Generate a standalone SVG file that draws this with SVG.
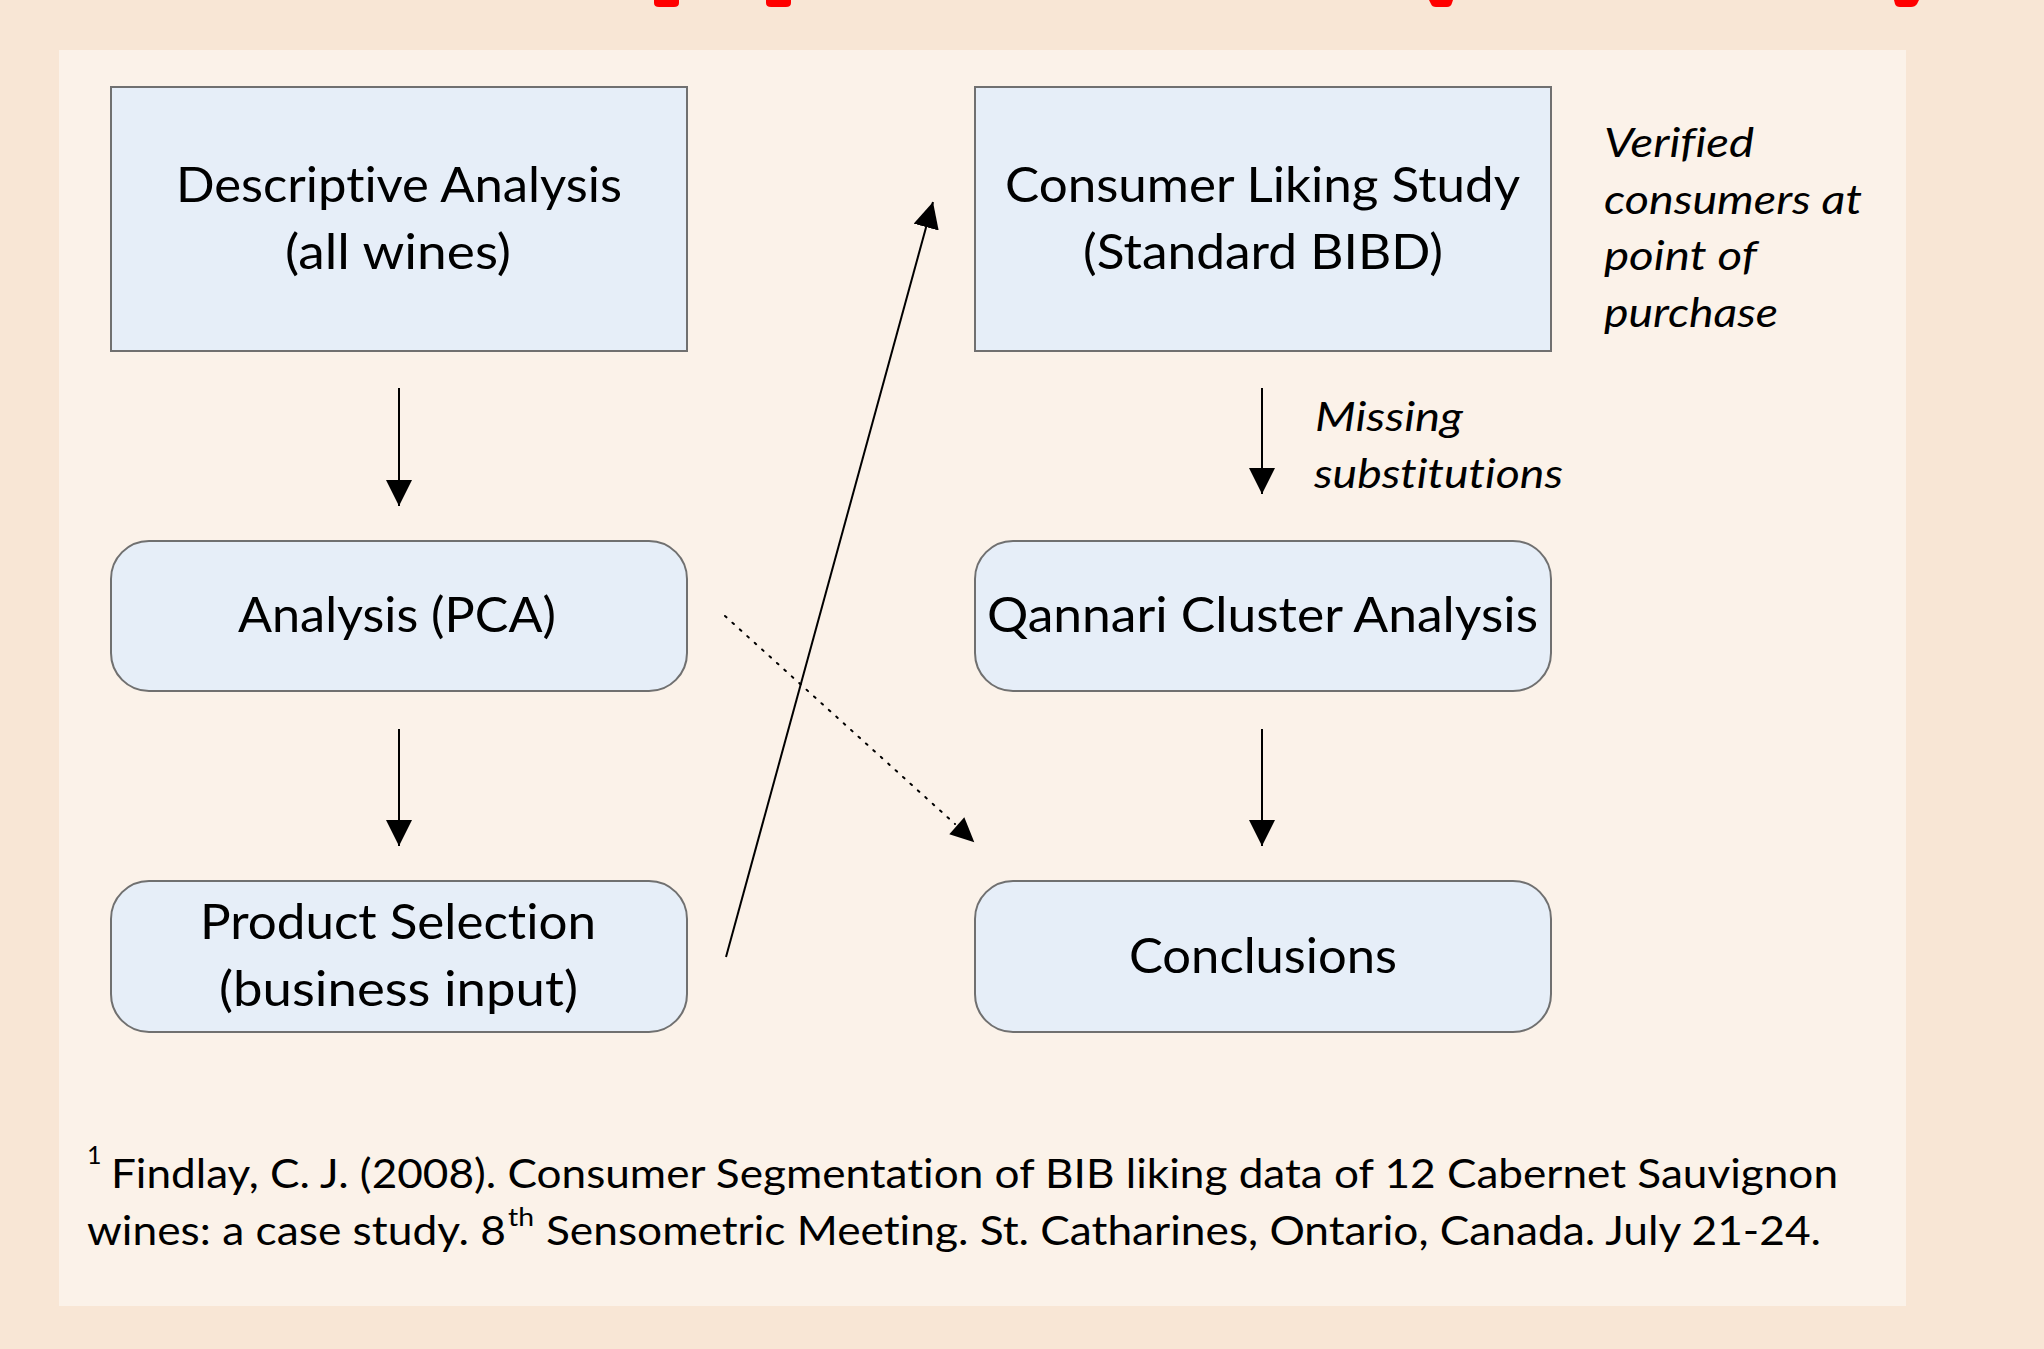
<svg xmlns="http://www.w3.org/2000/svg" width="2044" height="1349" viewBox="0 0 2044 1349">
  <style>
    text { font-variant-ligatures: none; font-feature-settings: "liga" 0, "clig" 0, "dlig" 0; }
    .box { fill: #e6eef8; stroke: #707070; stroke-width: 2; }
    .t { font-family: Lato, "Liberation Sans", sans-serif; font-size: 49px; fill: #000; }
    .it { font-family: Lato, "Liberation Sans", sans-serif; font-size: 40px; font-style: italic; fill: #000; }
    .fn { font-family: Lato, "Liberation Sans", sans-serif; font-size: 40px; fill: #000; }
    .sup { font-family: Lato, "Liberation Sans", sans-serif; font-size: 25px; fill: #000; }
    .conn { fill: none; stroke: #000; stroke-width: 2; }
    .dot { fill: none; stroke: #000; stroke-width: 2; stroke-dasharray: 2 8; stroke-linecap: round; }
    .red { fill: #ff0000; }
  </style>
  <defs>
    <marker id="ah" markerUnits="userSpaceOnUse" markerWidth="26" markerHeight="26" viewBox="0 0 25 25" refX="25" refY="12.5" orient="auto">
      <path d="M0,0 L25,12.5 L0,25 Z" fill="#000"/>
    </marker>
  </defs>

  <rect x="0" y="0" width="2044" height="1349" fill="#f8e6d5"/>
  <g id="red-marks">
    <path class="red" d="M654,0 H679 V3 Q679,7 674,7 H659 Q654,7 654,3 Z"/>
    <path class="red" d="M766,0 H791 V3 Q791,7 786,7 H771 Q766,7 766,3 Z"/>
    <path class="red" d="M1429,0 H1453 L1452,3 Q1451,7 1447,7 H1436 Q1432,7 1431,4 Z"/>
    <path class="red" d="M1894,0 H1919 L1917,4 Q1915,7 1911,7 H1900 Q1896,7 1895,4 Z"/>
  </g>
  <rect id="panel" x="59" y="50" width="1847" height="1256" fill="#fbf2e9"/>

  <g id="connectors">
    <line class="conn" x1="399" y1="388" x2="399" y2="506" marker-end="url(#ah)"/>
    <line class="conn" x1="399" y1="729" x2="399" y2="846" marker-end="url(#ah)"/>
    <line class="conn" x1="1262" y1="388" x2="1262" y2="494" marker-end="url(#ah)"/>
    <line class="conn" x1="1262" y1="729" x2="1262" y2="846" marker-end="url(#ah)"/>
    <line class="conn" x1="726" y1="957" x2="933" y2="202" marker-end="url(#ah)"/>
    <line class="dot" x1="725" y1="616" x2="955" y2="824"/>
    <path d="M974.3,842.3 L949.3,834.3 L964.3,817.3 Z" fill="#000"/>
  </g>

  <g id="n-descriptive">
    <rect class="box" x="111" y="87" width="576" height="264"/>
    <text class="t" x="176" y="202" textLength="446" lengthAdjust="spacingAndGlyphs">Descriptive Analysis</text>
    <text class="t" x="285" y="269" textLength="226" lengthAdjust="spacingAndGlyphs">(all wines)</text>
  </g>
  <g id="n-consumer">
    <rect class="box" x="975" y="87" width="576" height="264"/>
    <text class="t" x="1005" y="202" textLength="515" lengthAdjust="spacingAndGlyphs">Consumer Liking Study</text>
    <text class="t" x="1083" y="269" textLength="360" lengthAdjust="spacingAndGlyphs">(Standard BIBD)</text>
  </g>
  <g id="n-verified-note">
    <text class="it" x="1604" y="157" textLength="150" lengthAdjust="spacingAndGlyphs">Verified</text>
    <text class="it" x="1604" y="214" textLength="258" lengthAdjust="spacingAndGlyphs">consumers at</text>
    <text class="it" x="1604" y="270" textLength="153" lengthAdjust="spacingAndGlyphs">point of</text>
    <text class="it" x="1604" y="327" textLength="174" lengthAdjust="spacingAndGlyphs">purchase</text>
  </g>
  <g id="n-missing-note">
    <text class="it" x="1315" y="431" textLength="148" lengthAdjust="spacingAndGlyphs">Missing</text>
    <text class="it" x="1314" y="488" textLength="249" lengthAdjust="spacingAndGlyphs">substitutions</text>
  </g>
  <g id="n-pca">
    <rect class="box" x="111" y="541" width="576" height="150" rx="38" ry="38"/>
    <text class="t" x="238" y="632" textLength="318" lengthAdjust="spacingAndGlyphs">Analysis (PCA)</text>
  </g>
  <g id="n-qannari">
    <rect class="box" x="975" y="541" width="576" height="150" rx="38" ry="38"/>
    <text class="t" x="987" y="632" textLength="551" lengthAdjust="spacingAndGlyphs">Qannari Cluster Analysis</text>
  </g>
  <g id="n-product">
    <rect class="box" x="111" y="881" width="576" height="151" rx="38" ry="38"/>
    <text class="t" x="200" y="939" textLength="396" lengthAdjust="spacingAndGlyphs">Product Selection</text>
    <text class="t" x="219" y="1006" textLength="359" lengthAdjust="spacingAndGlyphs">(business input)</text>
  </g>
  <g id="n-conclusions">
    <rect class="box" x="975" y="881" width="576" height="151" rx="38" ry="38"/>
    <text class="t" x="1129" y="973" textLength="268" lengthAdjust="spacingAndGlyphs">Conclusions</text>
  </g>

  <g id="footnote">
    <text class="sup" x="87" y="1164">1</text>
    <text class="fn" x="111" y="1188" textLength="1727" lengthAdjust="spacingAndGlyphs">Findlay, C. J. (2008). Consumer Segmentation of BIB liking data of 12 Cabernet Sauvignon</text>
    <text class="fn" x="87" y="1245" textLength="419" lengthAdjust="spacingAndGlyphs">wines: a case study. 8</text>
    <text class="sup" x="508" y="1226" textLength="26" lengthAdjust="spacingAndGlyphs">th</text>
    <text class="fn" x="546" y="1245" textLength="1275" lengthAdjust="spacingAndGlyphs">Sensometric Meeting. St. Catharines, Ontario, Canada. July 21-24.</text>
  </g>
</svg>
